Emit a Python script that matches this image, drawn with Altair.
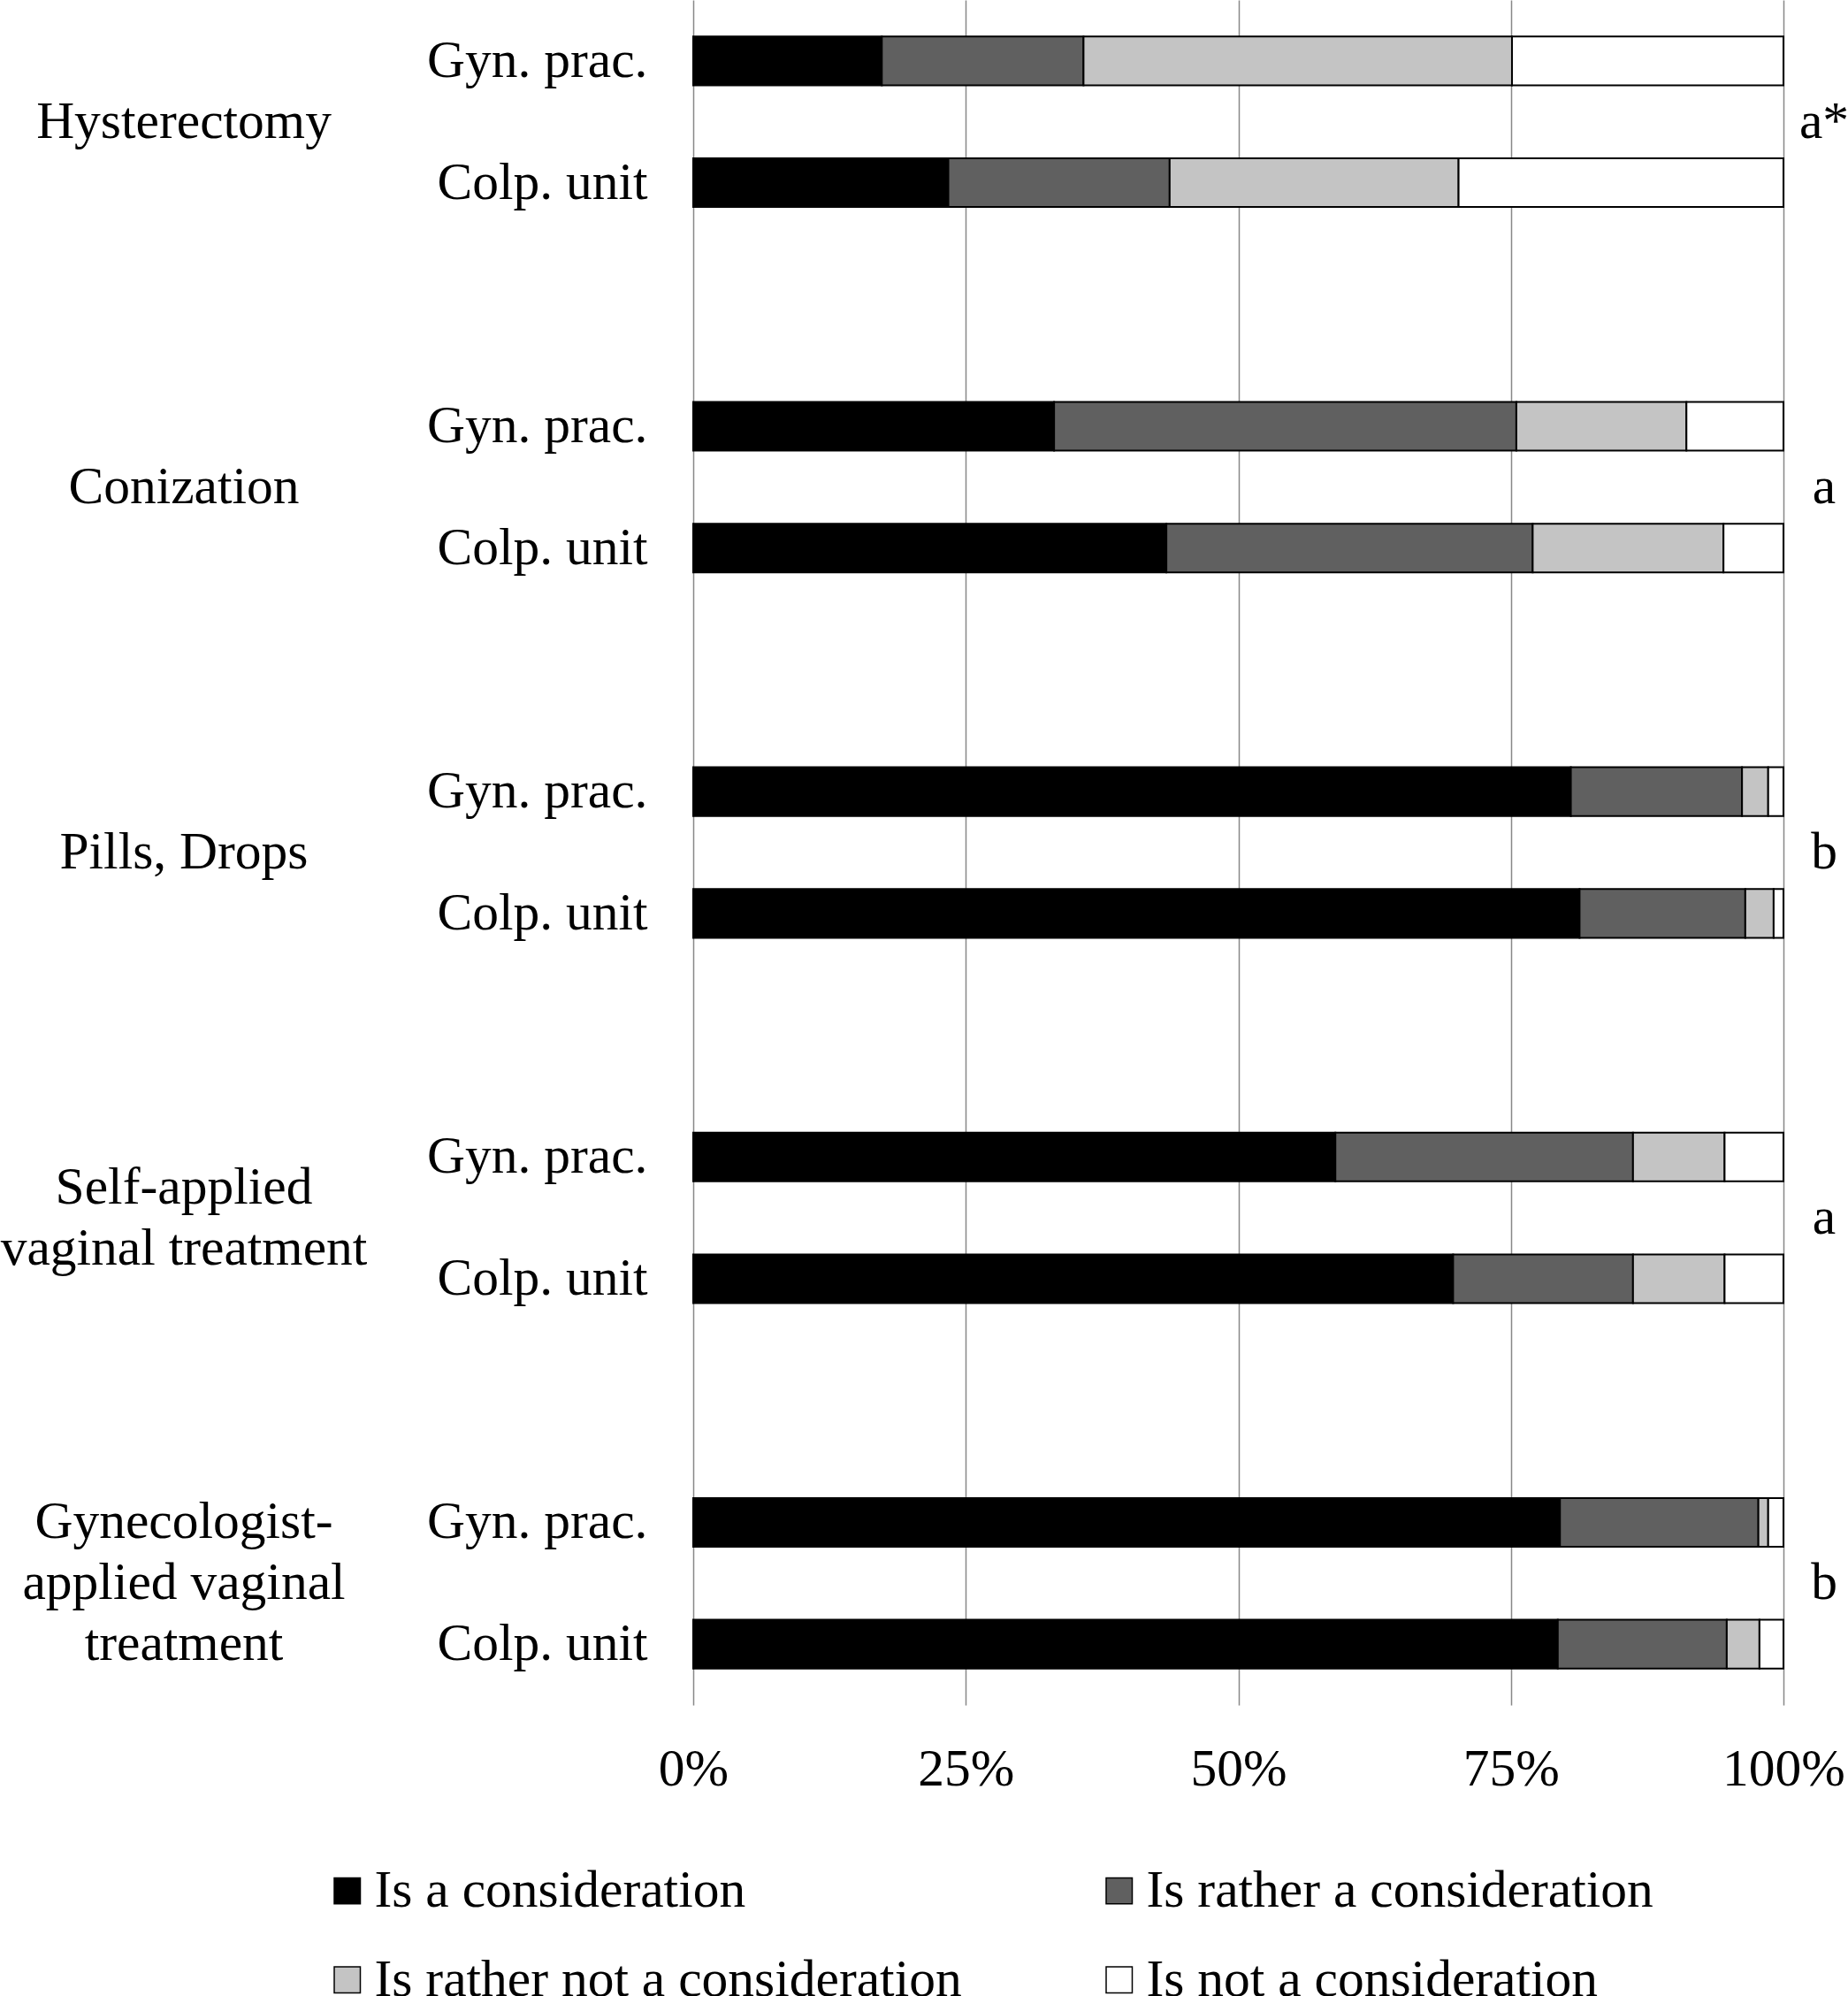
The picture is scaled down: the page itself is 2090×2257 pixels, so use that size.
import altair as alt
import pandas as pd

FONT = "Liberation Serif"
FONT_SIZE = 59.5
LINE_HEIGHT = 69
HALF_STEP = 69  # half of one band step: the gap between the two bars of a group

# Treatment groups (line breaks as displayed) and their significance letters
groups = [
    "Hysterectomy",
    "Conization",
    "Pills, Drops",
    "Self-applied\nvaginal treatment",
    "Gynecologist-\napplied vaginal\ntreatment",
]
significance = ["a*", "a", "b", "a", "b"]

settings = ["Gyn. prac.", "Colp. unit"]
responses = [
    "Is a consideration",
    "Is rather a consideration",
    "Is rather not a consideration",
    "Is not a consideration",
]
response_colors = ["#000000", "#606060", "#c4c4c4", "#ffffff"]

# Shares (%) per group, gynecological practice
gyn_is = [17.3, 33.1, 80.5, 58.9, 79.5]
gyn_rather = [18.5, 42.4, 15.7, 27.3, 18.2]
gyn_rather_not = [39.3, 15.6, 2.4, 8.4, 0.9]
gyn_not = [24.9, 8.9, 1.4, 5.4, 1.4]

# Shares (%) per group, colposcopy unit
colp_is = [23.4, 43.4, 81.3, 69.7, 79.3]
colp_rather = [20.3, 33.6, 15.2, 16.5, 15.5]
colp_rather_not = [26.5, 17.5, 2.6, 8.4, 3.0]
colp_not = [29.8, 5.5, 0.9, 5.4, 2.2]

by_setting = {
    "Gyn. prac.": [gyn_is, gyn_rather, gyn_rather_not, gyn_not],
    "Colp. unit": [colp_is, colp_rather, colp_rather_not, colp_not],
}

# One band per bar, plus an empty band between treatment groups
rows = []
slot_domain = []
for gi in range(len(groups)):
    for s in settings:
        slot = f"{gi}|{s}"
        slot_domain.append(slot)
        for ri, r in enumerate(responses):
            rows.append({"slot": slot, "response": r, "rank": ri,
                         "share": by_setting[s][ri][gi]})
    if gi < len(groups) - 1:
        slot_domain.append(f"{gi}|")
bars_df = pd.DataFrame(rows)

labels_df = pd.DataFrame({
    "slot": [f"{gi}|{settings[0]}" for gi in range(len(groups))],
    "label": groups,
    "nlines": [g.count("\n") + 1 for g in groups],
    "sig": significance,
})

bars = alt.Chart(bars_df).mark_bar(stroke="black", strokeWidth=2).encode(
    x=alt.X(
        "share:Q",
        stack="zero",
        scale=alt.Scale(domain=[0, 100], nice=False),
        axis=alt.Axis(title=None, values=[0, 25, 50, 75, 100],
                      labelExpr="datum.value + '%'", domain=False,
                      ticks=False, tickSize=0, grid=True,
                      gridColor="#888888", gridWidth=1.5,
                      labelFlush=False, labelBaseline="alphabetic",
                      labelPadding=90, labelFont=FONT,
                      labelFontSize=FONT_SIZE, labelColor="black"),
    ),
    y=alt.Y(
        "slot:N",
        scale=alt.Scale(domain=slot_domain, paddingInner=0.6, paddingOuter=0.3),
        axis=alt.Axis(title=None, labelExpr="split(datum.value, '|')[1]",
                      domain=False, ticks=False, tickSize=0, grid=False,
                      labelPadding=52, labelFont=FONT, labelFontSize=FONT_SIZE,
                      labelColor="black", labelLimit=1000),
    ),
    color=alt.Color(
        "response:N",
        scale=alt.Scale(domain=responses, range=response_colors),
        legend=alt.Legend(
            title=None, orient="none", legendX=-421, legendY=2108,
            direction="horizontal", columns=2, columnPadding=148,
            rowPadding=40, padding=0,
            symbolType="square", symbolSize=870,
            symbolStrokeColor="black", symbolStrokeWidth=1.5,
            labelFont=FONT, labelFontSize=FONT_SIZE, labelColor="black",
            labelLimit=1000, labelOffset=1,
        ),
    ),
    order=alt.Order("rank:Q"),
)

# Group names, centred between the two bars; multi-line names are shifted
# up so the whole block is centred
group_layers = []
for n in sorted(set(labels_df["nlines"])):
    group_layers.append(
        alt.Chart(labels_df).transform_filter(alt.datum.nlines == n).mark_text(
            align="center", baseline="middle", dx=-576,
            dy=HALF_STEP - (n - 1) * LINE_HEIGHT / 2,
            font=FONT, fontSize=FONT_SIZE, lineBreak="\n",
            lineHeight=LINE_HEIGHT, color="black",
        ).encode(x=alt.datum(0), y=alt.Y("slot:N"), text="label:N")
    )

sig_text = alt.Chart(labels_df).mark_text(
    align="center", baseline="middle", dx=46, dy=HALF_STEP,
    font=FONT, fontSize=FONT_SIZE, color="black",
).encode(x=alt.datum(100), y=alt.Y("slot:N"), text="sig:N")

chart = alt.layer(bars, *group_layers, sig_text).properties(
    width=1233,
    height=1928,
    padding={"left": 784, "top": 0, "right": 73, "bottom": 329},
    autosize=alt.AutoSizeParams(type="none"),
    background="white",
).configure_view(strokeWidth=0)

chart.save("out.html", embed_options={"renderer": "svg", "actions": False})
